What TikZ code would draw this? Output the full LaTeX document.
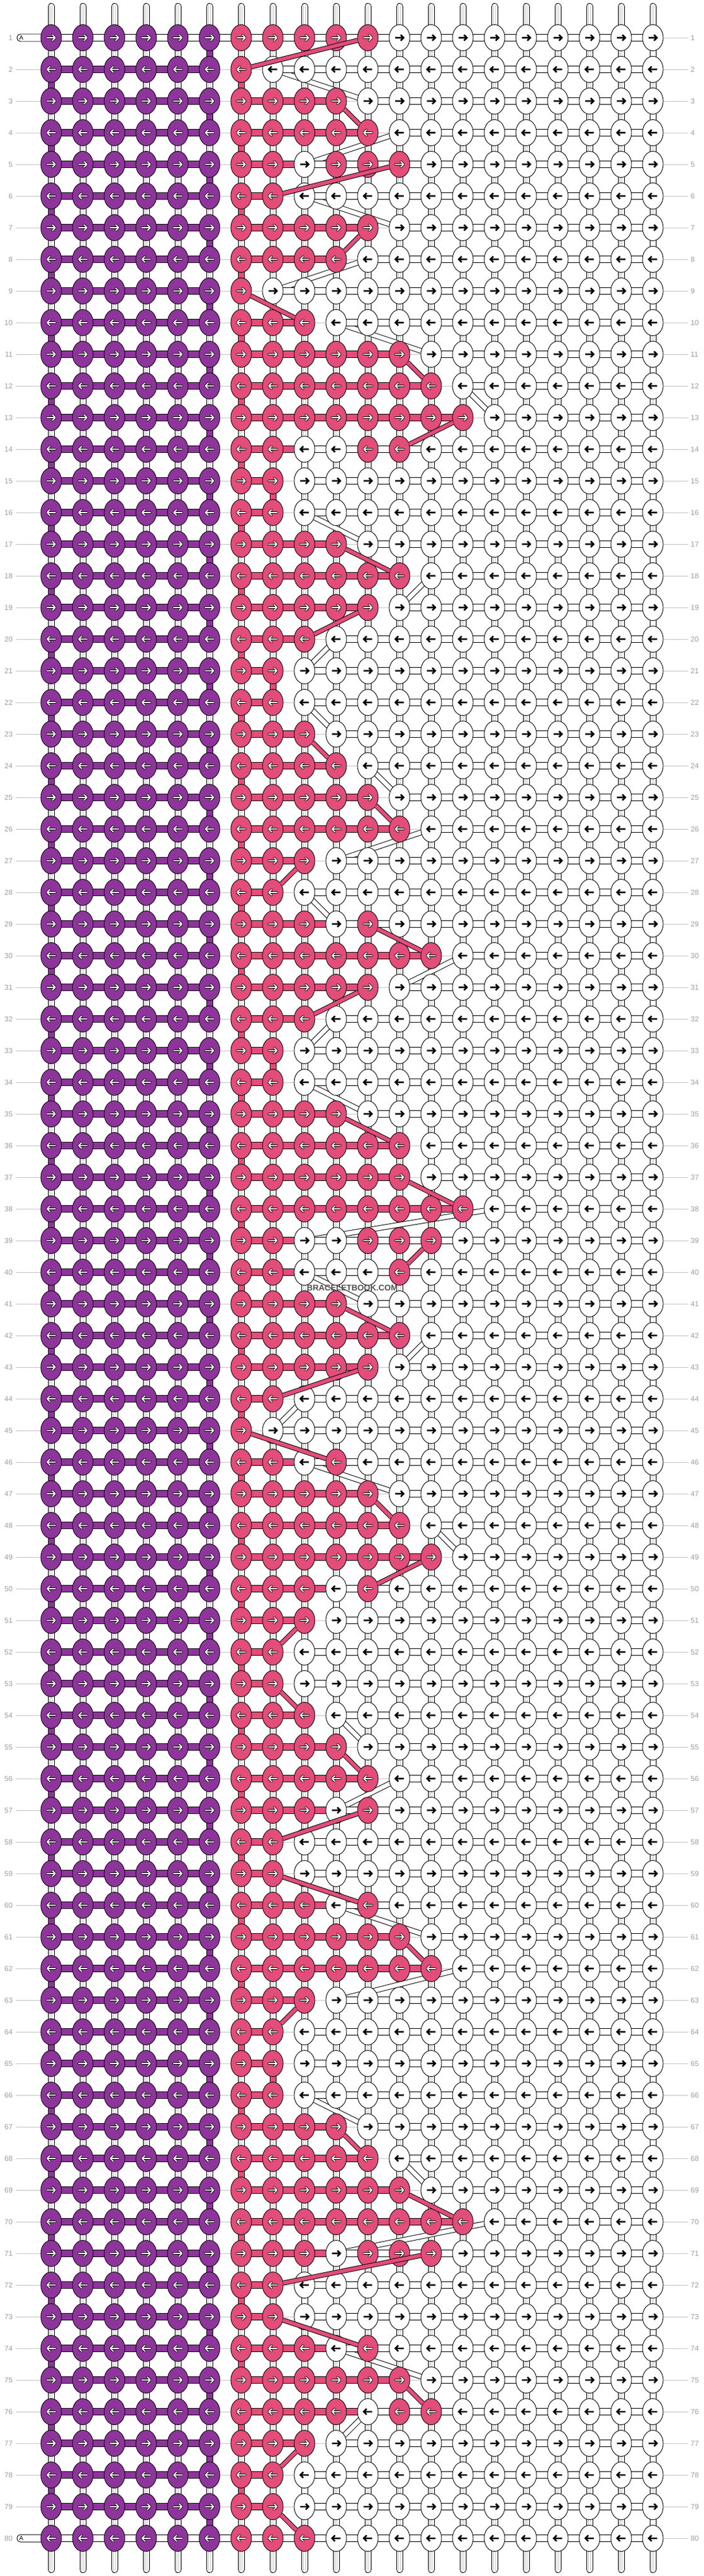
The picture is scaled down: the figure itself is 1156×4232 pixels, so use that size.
\documentclass[tikz,border=0pt]{standalone}
\usepackage{fontspec}
\setmainfont{Liberation Sans}
\definecolor{pur}{HTML}{8E359C}
\definecolor{pnk}{HTML}{E24D79}
\definecolor{lbl}{HTML}{9E9E9E}
\definecolor{rowln}{HTML}{C4C4C4}
\definecolor{warpin}{HTML}{C8C8C8}
\definecolor{wm}{HTML}{505050}
\pgfdeclarelayer{bg}
\pgfdeclarelayer{fg}
\pgfsetlayers{bg,main,fg}
\tikzset{
  knotline/.style={draw=black, line width=0.9pt},
  arrowB/.style={draw=black, line width=2.6pt, line cap=butt, line join=miter},
  arrowWo/.style={draw=black, line width=3.8pt, line cap=round, line join=round},
  arrowWi/.style={draw=white, line width=1.9pt, line cap=round, line join=round},
  hbar/.style={draw=black, line width=1pt, double=#1, double distance=10pt},
  vbar/.style={draw=black, line width=1pt, double=#1, double distance=9pt},
  wband/.style={draw=black, line width=1pt, double=white, double distance=7pt},
  pband/.style={draw=black, line width=1pt, double=pnk, double distance=6pt},
  lbltext/.style={text=lbl, inner sep=0pt, font=\fontsize{12}{12}\selectfont},
}
\begin{document}
\begin{tikzpicture}[x=1pt,y=-1pt]
\useasboundingbox (0,0) rectangle (1156,4232);
% ---------------- pattern data: row / pink knots / last pink / first white ----------------
\foreach \r/\pk/\lpk/\fwh in {
1/{7,8,9,10,11}/11/12,
2/{7}/7/8,
3/{7,8,9,10}/10/11,
4/{7,8,9,10,11}/11/12,
5/{7,8,10,11,12}/12/9,
6/{7,8}/8/9,
7/{7,8,9,10,11}/11/12,
8/{7,8,9,10}/10/11,
9/{7}/7/8,
10/{7,8,9}/9/10,
11/{7,8,9,10,11,12}/12/13,
12/{7,8,9,10,11,12,13}/13/14,
13/{7,8,9,10,11,12,13,14}/14/15,
14/{7,8,11,12}/12/9,
15/{7,8}/8/9,
16/{7,8}/8/9,
17/{7,8,9,10}/10/11,
18/{7,8,9,10,11,12}/12/13,
19/{7,8,9,10,11}/11/12,
20/{7,8,9}/9/10,
21/{7,8}/8/9,
22/{7,8}/8/9,
23/{7,8,9}/9/10,
24/{7,8,9,10}/10/11,
25/{7,8,9,10,11}/11/12,
26/{7,8,9,10,11,12}/12/13,
27/{7,8,9}/9/10,
28/{7,8}/8/9,
29/{7,8,9,11}/11/10,
30/{7,8,9,10,11,12,13}/13/14,
31/{7,8,9,10,11}/11/12,
32/{7,8,9}/9/10,
33/{7,8}/8/9,
34/{7,8}/8/9,
35/{7,8,9,10}/10/11,
36/{7,8,9,10,11,12}/12/13,
37/{7,8,9,10,11,12}/12/13,
38/{7,8,9,10,11,12,13,14}/14/15,
39/{7,8,11,12,13}/13/9,
40/{7,8,12}/12/9,
41/{7,8,9,10}/10/11,
42/{7,8,9,10,11,12}/12/13,
43/{7,8,9,10,11}/11/12,
44/{7,8}/8/9,
45/{7}/7/8,
46/{7,8,10}/10/9,
47/{7,8,9,10,11}/11/12,
48/{7,8,9,10,11,12}/12/13,
49/{7,8,9,10,11,12,13}/13/14,
50/{7,8,9,11}/11/10,
51/{7,8,9}/9/10,
52/{7,8}/8/9,
53/{7,8}/8/9,
54/{7,8,9}/9/10,
55/{7,8,9,10}/10/11,
56/{7,8,9,10,11}/11/12,
57/{7,8,9,11}/11/10,
58/{7,8}/8/9,
59/{7,8}/8/9,
60/{7,8,9,11}/11/10,
61/{7,8,9,10,11,12}/12/13,
62/{7,8,9,10,11,12,13}/13/14,
63/{7,8,9}/9/10,
64/{7,8}/8/9,
65/{7,8}/8/9,
66/{7,8}/8/9,
67/{7,8,9,10}/10/11,
68/{7,8,9,10,11}/11/12,
69/{7,8,9,10,11,12}/12/13,
70/{7,8,9,10,11,12,13,14}/14/15,
71/{7,8,9,11,12,13}/13/10,
72/{7,8}/8/9,
73/{7,8}/8/9,
74/{7,8,9,11}/11/10,
75/{7,8,9,10,11,12}/12/13,
76/{7,8,9,10,12,13}/13/11,
77/{7,8,9}/9/10,
78/{7,8}/8/9,
79/{7,8}/8/9,
80/{7,8,9}/9/10} {
  \expandafter\xdef\csname LP\r\endcsname{\lpk}
  \expandafter\xdef\csname FW\r\endcsname{\fwh}
  \foreach \c in \pk {\expandafter\gdef\csname P\r-\c\endcsname{}}
}
% ---------------- knots (one path per colour and row) ----------------
\foreach \r in {1,...,80} {
  \pgfmathsetmacro\yy{62+52*(\r-1)}
  \pgfmathsetmacro\yu{\yy-4.8}
  \pgfmathsetmacro\yl{\yy+4.8}
  \ifodd\r\relax\gdef\dd{1}\else\gdef\dd{-1}\fi
  \gdef\Kw{}\gdef\Kp{}\gdef\Kq{}\gdef\Aw{}\gdef\Ac{}
  \foreach \c in {1,...,20} {
    \pgfmathsetmacro\xx{84+52*(\c-1)}
    \pgfmathsetmacro\xa{\xx-7*\dd}
    \pgfmathsetmacro\xb{\xx+6.5*\dd}
    \pgfmathsetmacro\xc{\xx+2*\dd}
    \pgfmathsetmacro\xd{\xx+6.8*\dd}
    \edef\seg{(\xx,\yy) ellipse [x radius=17pt, y radius=21.5pt] }
    \edef\aseg{(\xa,\yy) -- (\xb,\yy) (\xc,\yu) -- (\xd,\yy) -- (\xc,\yl) }
    \ifnum\c<7\relax
      \xdef\Kq{\Kq\seg}\xdef\Ac{\Ac\aseg}
    \else
      \ifcsname P\r-\c\endcsname
        \xdef\Kp{\Kp\seg}\xdef\Ac{\Ac\aseg}
      \else
        \xdef\Kw{\Kw\seg}\xdef\Aw{\Aw\aseg}
      \fi
    \fi
  }
  \edef\cmd{%
    \noexpand\filldraw[knotline, fill=white] \Kw;
    \noexpand\filldraw[knotline, fill=pur] \Kq;
    \noexpand\filldraw[knotline, fill=pnk] \Kp;
    \noexpand\draw[arrowB] \Aw;
    \noexpand\draw[arrowWo] \Ac;
    \noexpand\draw[arrowWi] \Ac;}
  \cmd
  \node[lbltext, anchor=east] (lL-\r) at (21,\yy) {\r};
  \node[lbltext, anchor=west] (lR-\r) at (1134,\yy) {\r};
}
% ---------------- background layer ----------------
\begin{pgfonlayer}{bg}
\fill[white] (0,0) rectangle (1156,4232);
% row guide lines
\draw[rowln, line width=1pt] \foreach \r in {1,...,80} {(26,{62+52*(\r-1)}) -- (1130,{62+52*(\r-1)})};
% warp strings (with rounded ends at top and bottom)
\foreach \c in {1,...,20} {
  \pgfmathsetmacro\xx{84+52*(\c-1)}
  \draw[line width=11pt, line cap=round] (\xx,10.5) -- (\xx,4221.5);
  \draw[white, line width=9pt, line cap=round] (\xx,10.5) -- (\xx,4221.5);
  \draw[warpin, line width=3.4pt] (\xx,9) -- (\xx,4223);
  \draw[white, line width=1.4pt] (\xx,9) -- (\xx,4223);
}
% weft "A" ends
\draw[fill=white, line width=0.9pt, rounded corners=6pt] (72,56) -- (28,56) -- (28,68) -- (72,68);
\node[font=\fontsize{10}{10}\selectfont, inner sep=0pt] (A1) at (35,62.5) {A};
\draw[fill=white, line width=0.9pt, rounded corners=6pt] (72,4164) -- (28,4164) -- (28,4176) -- (72,4176);
\node[font=\fontsize{10}{10}\selectfont, inner sep=0pt] (A80) at (35,4170.5) {A};
% turning bars and white bands
\foreach \r [evaluate=\r as \rn using int(\r+1)] in {1,...,79} {
  \edef\la{\csname LP\r\endcsname}\edef\lb{\csname LP\rn\endcsname}
  \edef\fa{\csname FW\r\endcsname}\edef\fb{\csname FW\rn\endcsname}
  \pgfmathsetmacro\ya{62+52*(\r-1)}
  \pgfmathsetmacro\yb{\ya+52}
  \ifodd\r\relax
    \draw[vbar=pur] (344,\ya) -- (344,\yb);
    \ifnum\la=\lb\relax
      \pgfmathsetmacro\xp{84+52*(\la-1)}
      \draw[vbar=pnk] (\xp,\ya) -- (\xp,\yb);
    \fi
    \draw[vbar=white] (1072,\ya) -- (1072,\yb);
  \else
    \draw[vbar=pur] (84,\ya) -- (84,\yb);
    \draw[vbar=pnk] (396,\ya) -- (396,\yb);
    \pgfmathsetmacro\xp{84+52*(\fa-1)}
    \pgfmathsetmacro\xq{84+52*(\fb-1)}
    \ifnum\fa=\fb\relax
      \draw[vbar=white] (\xp,\ya) -- (\xp,\yb);
    \else
      \draw[wband] (\xp,\ya) -- (\xq,\yb);
    \fi
  \fi
}
% horizontal bars
\foreach \r in {1,...,80} {
  \pgfmathsetmacro\yy{62+52*(\r-1)}
  \edef\la{\csname LP\r\endcsname}\edef\fa{\csname FW\r\endcsname}
  \pgfmathsetmacro\xl{84+52*(\la-1)}
  \pgfmathsetmacro\xf{84+52*(\fa-1)}
  \ifnum\r=1\relax
    \draw[hbar=white] (84,\yy) -- (1072,\yy);
  \else\ifnum\r=80\relax
    \draw[hbar=white] (84,\yy) -- (1072,\yy);
  \else
    \draw[hbar=pur] (84,\yy) -- (344,\yy);
    \ifnum\la>7\relax
      \draw[hbar=pnk] (396,\yy) -- (\xl,\yy);
    \fi
    \draw[hbar=white] (\xf,\yy) -- (1072,\yy);
  \fi\fi
}
\end{pgfonlayer}
% ---------------- foreground: pink bands and watermark ----------------
\begin{pgfonlayer}{fg}
\foreach \r [evaluate=\r as \rn using int(\r+1)] in {1,...,79} {
  \edef\la{\csname LP\r\endcsname}\edef\lb{\csname LP\rn\endcsname}
  \ifodd\r\relax
    \ifnum\la=\lb\relax\else
      \pgfmathsetmacro\ya{62+52*(\r-1)}
      \pgfmathsetmacro\xa{84+52*(\la-1)}
      \pgfmathsetmacro\xb{84+52*(\lb-1)}
      \pgfmathsetmacro\dx{\xb-\xa}
      \pgfmathsetmacro\shf{1/sqrt((\dx/17)^2+(52/21.5)^2)}
      \pgfmathsetmacro\sx{\xa+\shf*\dx}
      \pgfmathsetmacro\sy{\ya+\shf*52}
      \pgfmathsetmacro\ex{\xb-\shf*\dx}
      \pgfmathsetmacro\ey{\ya+52-\shf*52}
      \draw[pband] (\sx,\sy) -- (\ex,\ey);
    \fi
  \fi
}
\node[font=\bfseries\fontsize{13.5}{14}\selectfont, text=wm, inner sep=0pt] (wmark) at (578.5,2116) {BRACELETBOOK.COM};
\end{pgfonlayer}
\end{tikzpicture}
\end{document}
